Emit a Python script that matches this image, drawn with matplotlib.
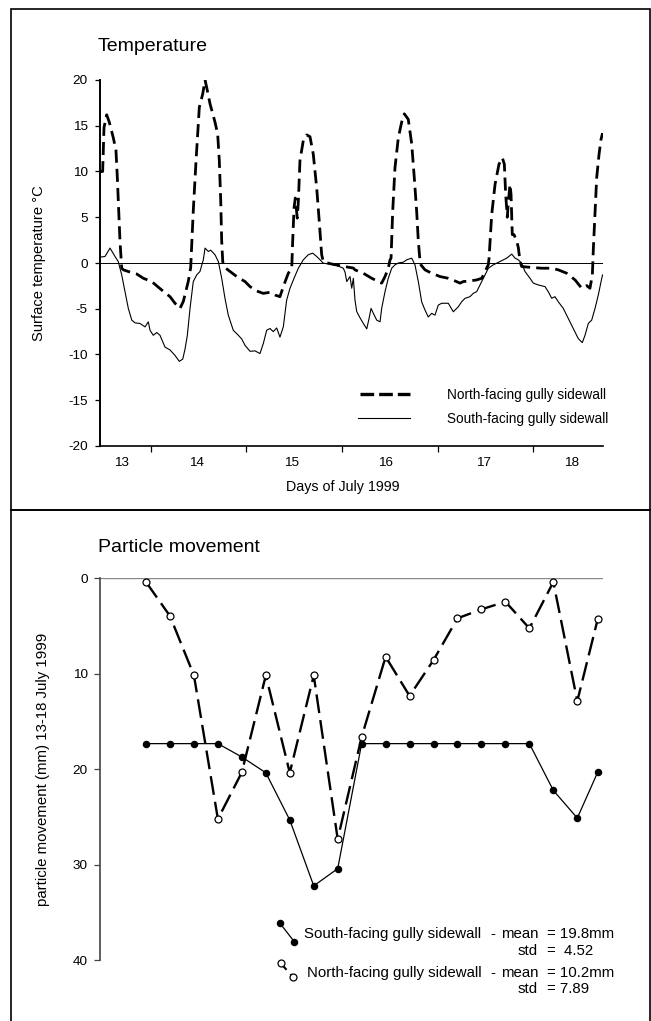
import matplotlib
matplotlib.use("Agg")
import matplotlib.pyplot as plt
from matplotlib.lines import Line2D
from matplotlib.patches import Rectangle

plt.rcParams['font.family'] = ['Liberation Sans', 'DejaVu Sans']
plt.rcParams['axes.unicode_minus'] = False

# ---------------- data: temperature (days of July 1999, deg C) ----------------
north_day = [13.472, 13.500, 13.514, 13.542, 13.569, 13.611, 13.639, 13.653, 13.668, 13.681,
             13.699, 13.716, 13.768, 13.856, 13.925, 14.013, 14.117, 14.204, 14.256, 14.308,
             14.343, 14.395, 14.420, 14.447, 14.476, 14.510, 14.546, 14.570, 14.587, 14.622,
             14.674, 14.702, 14.719, 14.734, 14.744, 14.755, 14.765, 14.831, 14.901, 14.988,
             15.040, 15.110, 15.179, 15.249, 15.301, 15.353, 15.388, 15.440, 15.476, 15.486,
             15.500, 15.513, 15.534, 15.545, 15.562, 15.597, 15.633, 15.667, 15.701, 15.737,
             15.764, 15.789, 15.806, 15.876, 16.015, 16.120, 16.137, 16.224, 16.312, 16.381,
             16.416, 16.451, 16.485, 16.503, 16.514, 16.531, 16.555, 16.590, 16.625, 16.653,
             16.694, 16.730, 16.757, 16.782, 16.799, 16.817, 16.827, 16.869, 16.939, 17.026,
             17.112, 17.182, 17.235, 17.269, 17.339, 17.409, 17.462, 17.496, 17.530, 17.538,
             17.566, 17.601, 17.642, 17.677, 17.698, 17.712, 17.729, 17.740, 17.757, 17.768,
             17.781, 17.799, 17.827, 17.844, 17.862, 17.879, 17.984, 18.088, 18.193, 18.262,
             18.350, 18.437, 18.507, 18.559, 18.593, 18.618, 18.628, 18.646, 18.663, 18.688,
             18.708, 18.725]
north_temp = [10.0, 10.0, 14.8, 16.2, 15.4, 13.7, 12.3, 9.4, 5.7, 2.4,
              -0.55, -0.75, -0.93, -1.2, -1.67, -2.03, -2.95, -3.68, -4.4, -4.97,
              -4.2, -2.0, -0.5, 5.7, 11.2, 17.0, 18.5, 20.0, 19.2, 17.4,
              15.4, 14.1, 11.2, 6.8, 2.4, 0.16, -0.4, -0.93, -1.48, -2.03,
              -2.58, -3.06, -3.32, -3.2, -3.5, -3.68, -2.58, -1.12, -0.57, 2.4,
              6.0, 7.1, 4.9, 6.7, 11.2, 13.4, 14.0, 13.8, 11.9, 8.2,
              4.5, 0.9, 0.16, -0.07, -0.37, -0.55, -0.75, -1.12, -1.67, -2.03,
              -2.2, -1.48, -0.57, 0.34, 0.53, 5.6, 10.4, 13.7, 15.4, 16.3,
              15.7, 13.0, 9.3, 5.6, 2.4, 0.16, -0.22, -0.75, -1.12, -1.48,
              -1.67, -1.96, -2.2, -2.03, -1.96, -1.85, -1.67, -0.93, -0.2, 0.5,
              5.3, 8.6, 10.8, 11.5, 10.8, 7.5, 5.0, 6.7, 8.6, 7.5,
              3.1, 3.1, 2.4, 1.7, 0.16, -0.38, -0.49, -0.57, -0.57, -0.75,
              -1.12, -1.85, -2.76, -2.47, -2.76, -1.3, 1.5, 5.6, 9.3, 11.9,
              13.5, 14.2]

south_day = [13.472, 13.524, 13.577, 13.629, 13.663, 13.699, 13.733, 13.768, 13.804, 13.838,
             13.890, 13.943, 13.977, 13.995, 14.029, 14.065, 14.099, 14.152, 14.204, 14.256,
             14.301, 14.337, 14.361, 14.385, 14.413, 14.447, 14.483, 14.517, 14.552, 14.570,
             14.604, 14.629, 14.674, 14.709, 14.744, 14.779, 14.813, 14.865, 14.918, 14.953,
             14.988, 15.040, 15.092, 15.144, 15.179, 15.214, 15.249, 15.283, 15.319, 15.353,
             15.388, 15.423, 15.458, 15.500, 15.545, 15.597, 15.649, 15.695, 15.737, 15.772,
             15.806, 15.876, 15.946, 16.015, 16.033, 16.051, 16.085, 16.103, 16.120, 16.137,
             16.155, 16.190, 16.224, 16.260, 16.284, 16.305, 16.329, 16.364, 16.399, 16.416,
             16.451, 16.485, 16.521, 16.555, 16.590, 16.642, 16.678, 16.730, 16.764, 16.799,
             16.834, 16.869, 16.903, 16.939, 16.973, 17.008, 17.043, 17.112, 17.165, 17.217,
             17.252, 17.287, 17.339, 17.374, 17.409, 17.444, 17.478, 17.531, 17.583, 17.653,
             17.723, 17.775, 17.810, 17.844, 17.879, 17.914, 17.966, 18.001, 18.053, 18.123,
             18.157, 18.193, 18.227, 18.262, 18.314, 18.367, 18.419, 18.471, 18.513, 18.541,
             18.576, 18.611, 18.646, 18.680, 18.716, 18.725]
south_temp = [0.64, 0.71, 1.63, 0.71, 0.16, -1.3, -3.13, -4.96, -6.24, -6.54,
              -6.61, -6.98, -6.43, -7.35, -7.9, -7.6, -7.9, -9.2, -9.5, -10.1,
              -10.75, -10.5, -9.4, -7.9, -4.96, -2.03, -1.3, -0.93, 0.35, 1.63,
              1.26, 1.4, 0.9, 0.16, -1.67, -3.9, -5.7, -7.35, -7.9, -8.3,
              -9.0, -9.65, -9.6, -9.9, -8.8, -7.35, -7.16, -7.5, -7.1, -8.1,
              -6.98, -4.05, -2.76, -1.67, -0.57, 0.35, 0.9, 1.08, 0.71, 0.35,
              -0.02, -0.13, -0.27, -0.57, -1.0, -2.03, -1.48, -2.76, -1.67, -4.05,
              -5.3, -6.0, -6.6, -7.2, -6.07, -4.96, -5.5, -6.24, -6.43, -4.96,
              -3.13, -1.67, -0.57, -0.2, 0.0, 0.09, 0.35, 0.53, -0.2, -2.03,
              -4.24, -5.15, -5.9, -5.5, -5.7, -4.6, -4.4, -4.4, -5.33, -4.78,
              -4.24, -3.86, -3.68, -3.31, -3.13, -2.4, -1.67, -0.57, -0.2, 0.16,
              0.53, 0.97, 0.53, 0.35, -0.02, -0.93, -1.67, -2.2, -2.4, -2.58,
              -3.13, -3.86, -3.68, -4.24, -4.96, -6.07, -7.16, -8.27, -8.7, -7.9,
              -6.6, -6.24, -4.96, -3.5, -1.67, -1.3]

day_boundaries = [14, 15, 16, 17, 18]
day_label_pos = [13.70, 14.48, 15.47, 16.46, 17.48, 18.40]
day_labels = ['13', '14', '15', '16', '17', '18']
temp_ticks = [-20, -15, -10, -5, 0, 5, 10, 15, 20]

# ---------------- data: particle movement (mm) ----------------
station = [1, 2, 3, 4, 5, 6, 7, 8, 9, 10, 11, 12, 13, 14, 15, 16, 17, 18, 19, 19.85]
south_move = [17.3, 17.3, 17.3, 17.3, 18.7, 20.35, 25.3, 32.2, 30.4, 17.3,
              17.3, 17.3, 17.3, 17.3, 17.3, 17.3, 17.3, 22.2, 25.1, 20.3]
north_move = [0.37, 3.93, 10.15, 25.2, 20.3, 10.15, 20.35, 10.15, 27.3, 16.6,
              8.2, 12.3, 8.54, 4.17, 3.23, 2.43, 5.22, 0.37, 12.84, 4.28]
move_ticks = [0, 10, 20, 30, 40]
south_stats = ('South-facing gully sidewall', 'mean', '= 19.8mm', 'std', '=  4.52')
north_stats = ('North-facing gully sidewall', 'mean', '= 10.2mm', 'std', '= 7.89')

# ---------------- figure ----------------
W, H = 651, 1021
fig = plt.figure(figsize=(W / 100, H / 100), dpi=100)

def fx(px):
    return px / W

def fy(py):
    return 1 - py / H

# panel borders
fig.add_artist(Rectangle((fx(11), fy(510)), fx(649.5) - fx(11), fy(9) - fy(510),
                         transform=fig.transFigure, fill=False, lw=1.2, ec='black'))
fig.add_artist(Rectangle((fx(11), -0.01), fx(649.5) - fx(11), fy(510) + 0.01,
                         transform=fig.transFigure, fill=False, lw=1.2, ec='black'))

# ---------------- top: temperature ----------------
ax1 = fig.add_axes([fx(99.6), fy(446), fx(602.7) - fx(99.6), fy(80) - fy(446)])
ax1.plot(south_day, south_temp, color='black', lw=0.8, solid_joinstyle='round')
ax1.plot(north_day, north_temp, color='black', lw=2.0, dashes=(4.7, 2.2),
         dash_capstyle='butt')
ax1.axhline(0, color='black', lw=0.7)
ax1.set_xlim(13.468, 18.726)
ax1.set_ylim(-20, 20)
for s in ['top', 'right']:
    ax1.spines[s].set_visible(False)
ax1.spines['left'].set_linewidth(1.4)
ax1.spines['bottom'].set_linewidth(1.2)
ax1.set_yticks(temp_ticks)
ax1.set_yticklabels([str(t) for t in temp_ticks])
ax1.tick_params(axis='y', direction='out', length=3.6, width=0.9, pad=5, labelsize=9.7)
ax1.set_xticks(day_boundaries)
ax1.set_xticklabels([])
ax1.set_xticks(day_label_pos, minor=True)
ax1.set_xticklabels(day_labels, minor=True)
ax1.tick_params(axis='x', which='major', direction='out', length=4, width=0.9)
ax1.tick_params(axis='x', which='minor', length=0, pad=8.0, labelsize=9.7)
ax1.set_xlabel('Days of July 1999', fontsize=10.3)
ax1.xaxis.set_label_coords(0.483, -0.093)
ax1.set_ylabel('Surface temperature °C', fontsize=10.6)
ax1.yaxis.set_label_coords(-0.107, 0.5)
fig.text(fx(97.7), fy(50.7), 'Temperature', fontsize=14, va='baseline', ha='left')

# top legend (keys + labels)
def tx(px):
    return (px - 99.6) / (602.7 - 99.6)

def ty(py):
    return (446 - py) / (446 - 80)

ax1.add_line(Line2D([tx(360), tx(410)], [ty(394), ty(394)], transform=ax1.transAxes,
                    color='black', lw=2.4, dashes=(4.1, 1.5), dash_capstyle='butt'))
ax1.add_line(Line2D([tx(358.3), tx(410)], [ty(418.3), ty(418.3)], transform=ax1.transAxes,
                    color='black', lw=0.8))
ax1.text(tx(446.7), ty(399.3), 'North-facing gully sidewall', transform=ax1.transAxes,
         fontsize=9.8, va='baseline', ha='left')
ax1.text(tx(446.7), ty(423.3), 'South-facing gully sidewall', transform=ax1.transAxes,
         fontsize=9.8, va='baseline', ha='left')

# ---------------- bottom: particle movement ----------------
ax2 = fig.add_axes([fx(99.6), fy(960.3), fx(602.7) - fx(99.6), fy(578.5) - fy(960.3)])
ax2.plot(station, south_move, color='black', lw=0.9, marker='o', ms=4.4,
         mfc='black', mec='black', clip_on=False, zorder=3)
ax2.plot(station, north_move, color='black', lw=1.7, dashes=(8, 3), marker='o', ms=5.0,
         mfc='white', mec='black', mew=0.9, clip_on=False, zorder=4)
ax2.axhline(0, color='#8a8a8a', lw=1.0, zorder=1)
ax2.set_xlim(-0.937, 20.06)
ax2.set_ylim(40, 0)
for s in ['top', 'right', 'bottom']:
    ax2.spines[s].set_visible(False)
ax2.spines['left'].set_color('#444444')
ax2.spines['left'].set_linewidth(1.2)
ax2.set_xticks([])
ax2.set_yticks(move_ticks)
ax2.set_yticklabels([str(t) for t in move_ticks])
ax2.tick_params(axis='y', direction='out', length=4.6, width=0.9, color='#444444',
                pad=4, labelsize=9.7)
ax2.set_ylabel('particle movement (mm) 13-18 July 1999', fontsize=10.8)
ax2.yaxis.set_label_coords(-0.0986, 0.5)
fig.text(fx(97.5), fy(551.7), 'Particle movement', fontsize=14, va='baseline', ha='left')

def bx(px):
    return (px - 99.6) / (602.7 - 99.6)

def by(py):
    return (960.3 - py) / (960.3 - 578.5)

# bottom legend keys
ax2.add_line(Line2D([bx(280), bx(294.3)], [by(923.3), by(941.7)], transform=ax2.transAxes,
                    color='black', lw=0.9, marker='o', ms=4.4, mfc='black', clip_on=False))
ax2.add_line(Line2D([bx(280.7), bx(293.3)], [by(963.3), by(977.3)], transform=ax2.transAxes,
                    color='black', lw=1.5, dashes=(4.2, 2.8), marker='o', ms=5.0,
                    mfc='white', mew=0.9, clip_on=False))

fs_leg = 10.8
for stats, x_name, b1, b2 in [(south_stats, 304.3, 938.3, 955.0),
                              (north_stats, 306.7, 976.7, 993.3)]:
    name, mean_lbl, mean_val, std_lbl, std_val = stats
    ax2.text(bx(x_name), by(b1), name, transform=ax2.transAxes, fontsize=fs_leg,
             va='baseline', ha='left')
    ax2.text(bx(490), by(b1), '-', transform=ax2.transAxes, fontsize=fs_leg,
             va='baseline', ha='left')
    ax2.text(bx(539), by(b1), mean_lbl, transform=ax2.transAxes, fontsize=fs_leg,
             va='baseline', ha='right')
    ax2.text(bx(547.3), by(b1), mean_val, transform=ax2.transAxes, fontsize=fs_leg,
             va='baseline', ha='left')
    ax2.text(bx(538), by(b2), std_lbl, transform=ax2.transAxes, fontsize=fs_leg,
             va='baseline', ha='right')
    ax2.text(bx(547.3), by(b2), std_val, transform=ax2.transAxes, fontsize=fs_leg,
             va='baseline', ha='left')

fig.savefig('out.png', dpi=100)
